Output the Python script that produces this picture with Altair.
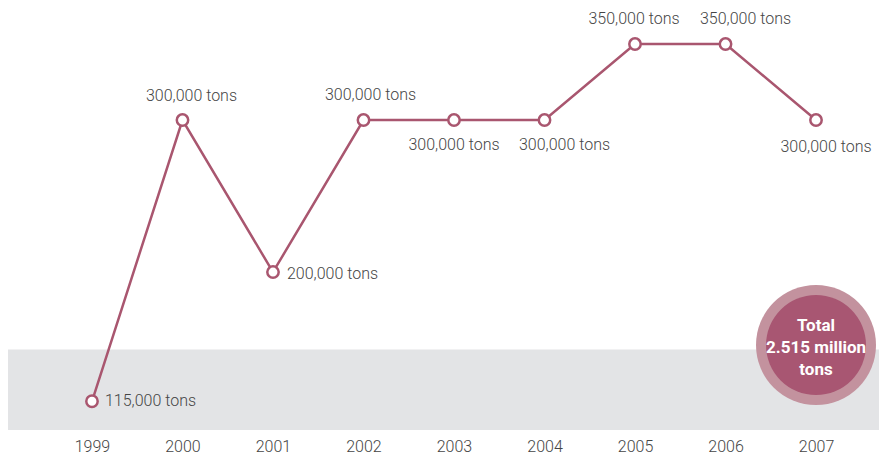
import altair as alt
import pandas as pd

years = [1999, 2000, 2001, 2002, 2003, 2004, 2005, 2006, 2007]
tons_k = [115, 300, 200, 300, 300, 300, 350, 350, 300]
labels = ["115,000 tons", "300,000 tons", "200,000 tons", "300,000 tons", "300,000 tons",
          "300,000 tons", "350,000 tons", "350,000 tons", "300,000 tons"]
total_lines = ["Total", "2.515 million", "tons"]
total_year = [2007]
total_pos_k = [152]
band_top_k = [149]

LINE = "#A9566F"
TEXT = "#454545"

df = pd.DataFrame({"year": years, "tons": tons_k, "label": labels})

X0, X1 = 1998.072, 2007.696
Y0, Y1 = 96.1, 373.7
xs = alt.Scale(domain=[X0, X1], nice=False, zero=False)
ys = alt.Scale(domain=[Y0, Y1], nice=False, zero=False)

band = alt.Chart(pd.DataFrame({"top": band_top_k})).mark_rect(color="#E3E4E6").encode(
    x=alt.value(-2), x2=alt.value(890),
    y=alt.Y("top:Q", scale=ys, axis=None),
    y2=alt.datum(Y0),
)

line = alt.Chart(df).mark_line(color=LINE, strokeWidth=2.5).encode(
    x=alt.X("year:Q", scale=xs,
            axis=alt.Axis(values=years, format="d", title=None, domain=False, ticks=False,
                          grid=False, labelFont="Roboto", labelFontSize=16,
                          labelColor=TEXT, labelPadding=8, labelFontWeight=300)),
    y=alt.Y("tons:Q", scale=ys, axis=None),
)

pts = alt.Chart(df).mark_point(filled=False, fill="white", fillOpacity=1, color=LINE,
                               strokeWidth=2.5, size=130, opacity=1).encode(
    x=alt.X("year:Q", scale=xs),
    y=alt.Y("tons:Q", scale=ys),
)

offsets = {
    1999: (13, 0, "left"),
    2000: (9, -24, "center"),
    2001: (14, 2, "left"),
    2002: (7, -25, "center"),
    2003: (0, 25, "center"),
    2004: (20, 25, "center"),
    2005: (-1, -25, "center"),
    2006: (20, -25, "center"),
    2007: (10, 27, "center"),
}
label_layers = []
for yr, (dx, dy, al) in offsets.items():
    label_layers.append(
        alt.Chart(df).transform_filter(alt.datum.year == yr).mark_text(
            dx=dx, dy=dy, align=al, baseline="middle", font="Roboto", fontSize=16,
            fontWeight=300, color=TEXT).encode(
            x=alt.X("year:Q", scale=xs), y=alt.Y("tons:Q", scale=ys), text="label:N")
    )

tdf = pd.DataFrame({"year": total_year, "pos": total_pos_k})
outer = alt.Chart(tdf).mark_point(filled=True, color="#C3929E", size=14400, opacity=1,
                                  shape="circle").encode(
    x=alt.X("year:Q", scale=xs), y=alt.Y("pos:Q", scale=ys))
inner = alt.Chart(tdf).mark_point(filled=True, color="#A85672", size=10000, opacity=1,
                                  shape="circle").encode(
    x=alt.X("year:Q", scale=xs), y=alt.Y("pos:Q", scale=ys))
ttext = alt.Chart(tdf).mark_text(text=total_lines, color="white", font="Roboto",
                                 fontSize=17, fontWeight="bold", lineHeight=22,
                                 baseline="middle", align="center", dy=-19).encode(
    x=alt.X("year:Q", scale=xs), y=alt.Y("pos:Q", scale=ys))

chart = alt.layer(band, line, pts, *label_layers, outer, inner, ttext).properties(
    width=871, height=422,
    autosize=alt.AutoSizeParams(type="none"),
    padding={"left": 0, "top": 0, "right": 0, "bottom": 26},
).configure_view(stroke=None, clip=False)

chart.save("out.html", embed_options={"renderer": "svg", "actions": False})
